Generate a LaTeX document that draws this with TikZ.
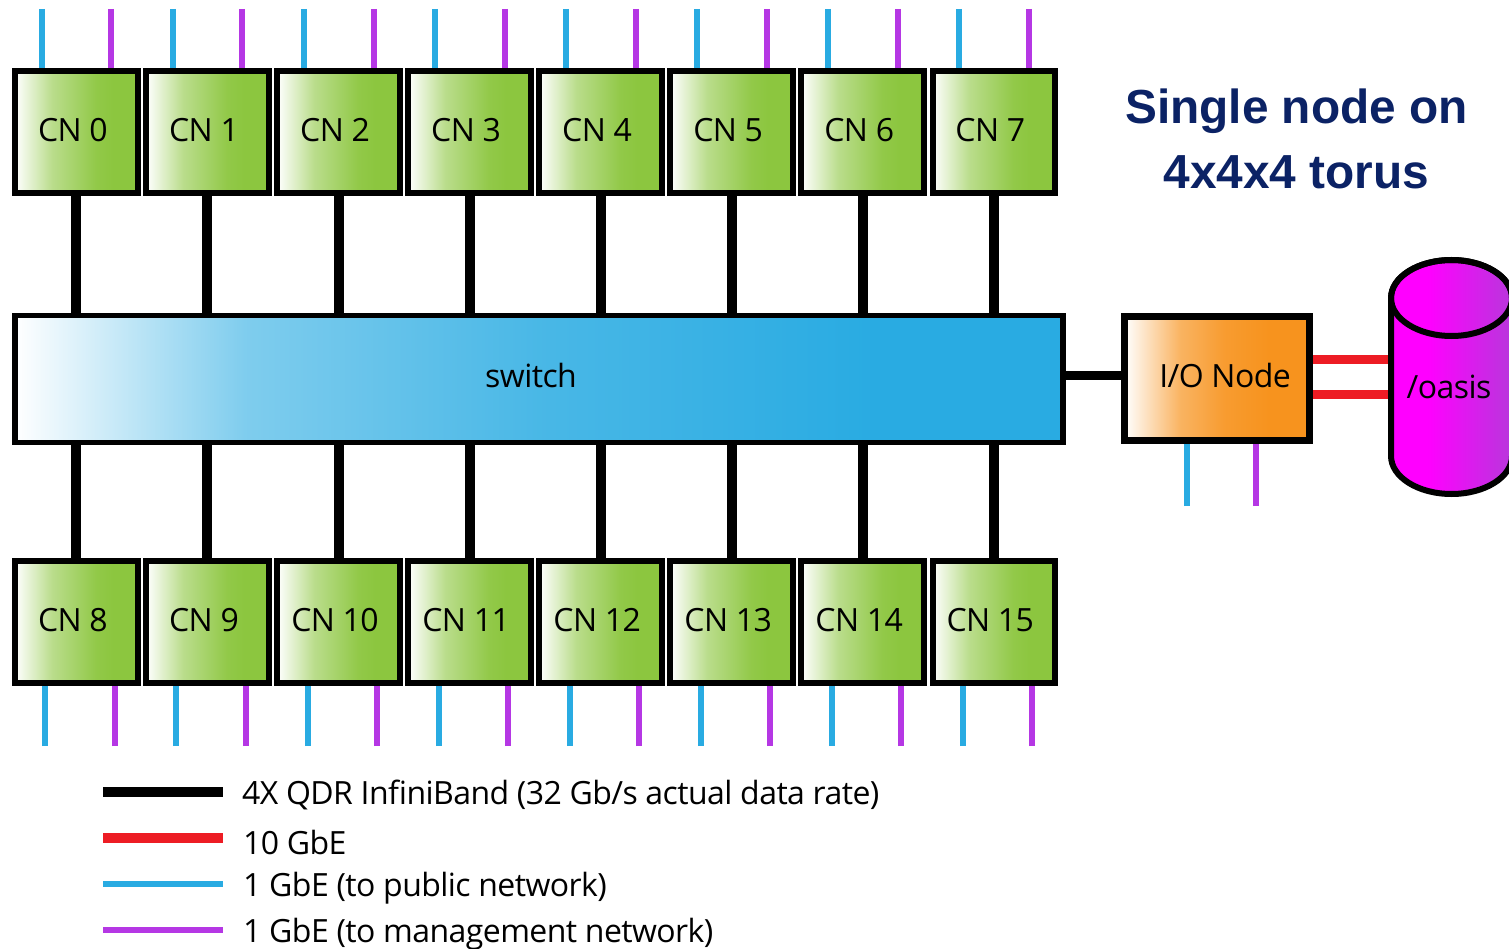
\documentclass[tikz,border=0pt]{standalone}
\usepackage{fontspec}
\setmainfont[LetterSpace=-1.8]{Open Sans}
\newfontfamily\titlefont[Scale=1.0]{Liberation Sans}
\usetikzlibrary{calc,backgrounds}
\definecolor{cngreen}{HTML}{8CC63F}
\definecolor{swblue}{HTML}{29ABE2}
\definecolor{ioorange}{HTML}{F7931E}
\definecolor{pubblue}{HTML}{29ABE2}
\definecolor{mgmt}{HTML}{B537E4}
\definecolor{tenred}{HTML}{ED1C24}
\definecolor{navy}{HTML}{0B2265}
\definecolor{diskend}{HTML}{B837DC}
\pgfdeclarehorizontalshading{greenfade}{100bp}{color(0bp)=(white);color(25bp)=(white);color(40bp)=(cngreen!60!white);color(58bp)=(cngreen!95!white);color(65bp)=(cngreen);color(100bp)=(cngreen)}
\pgfdeclarehorizontalshading{bluefade}{100bp}{color(0bp)=(white);color(25bp)=(white);color(36bp)=(swblue!60!white);color(50bp)=(swblue!85!white);color(66bp)=(swblue);color(100bp)=(swblue)}
\pgfdeclarehorizontalshading{orangefade}{100bp}{color(0bp)=(white);color(25bp)=(white);color(40bp)=(ioorange!70!white);color(52bp)=(ioorange!92!white);color(64bp)=(ioorange);color(100bp)=(ioorange)}
\pgfdeclarehorizontalshading{diskfade}{100bp}{color(0bp)=(magenta);color(40bp)=(magenta);color(75bp)=(diskend);color(100bp)=(diskend)}
\tikzset{
  x=1pt,y=-1pt,
  every node/.style={font=\fontsize{32}{36}\selectfont,text=black},
  cnbox/.style={draw=black,line width=6pt,minimum width=122.5pt,minimum height=122.5pt,inner sep=0pt,shading=greenfade},
  swbox/.style={draw=black,line width=5.5pt,minimum width=1048pt,minimum height=127pt,inner sep=0pt,shading=bluefade},
  iobox/.style={draw=black,line width=7pt,minimum width=185pt,minimum height=124pt,inner sep=0pt,shading=orangefade},
  ib/.style={line width=10pt,black},
  ten/.style={line width=9pt,tenred},
  pub/.style={line width=6pt,pubblue},
  man/.style={line width=6pt,mgmt},
  legendtext/.style={anchor=base west,inner sep=0pt},
  titletext/.style={font=\titlefont\bfseries\fontsize{47.8}{50}\selectfont,text=navy,inner sep=0pt,anchor=base}
}
\newcommand{\cntext}[1]{\raisebox{5pt}{#1\hspace{7pt}}}
\begin{document}
\begin{tikzpicture}
\useasboundingbox (0,0) rectangle (1509,949);
\clip (0,0) rectangle (1509,949);
% switch, I/O node
\node[swbox] (sw) at (539,379) {\raisebox{7pt}{switch\hspace{16pt}}};
\node[iobox] (io) at (1217,378.5) {\raisebox{6pt}{\hspace{16pt}I/O Node}};
% compute nodes
\foreach \i in {0,...,7}{
  \pgfmathsetmacro{\cx}{76.4+131.05*\i}
  \node[cnbox] (cn\i) at (\cx,132) {\cntext{CN \i}};
  \coordinate (ta\i) at (\cx-34.5,9);
  \coordinate (tb\i) at (\cx+35,9);
  \draw[ib] (cn\i.south) -- (cn\i.south |- sw.north);
  \draw[pub] (ta\i) -- (ta\i |- cn\i.north);
  \draw[man] (tb\i) -- (tb\i |- cn\i.north);
}
\foreach \i in {8,...,15}{
  \pgfmathsetmacro{\cx}{76.4+131.05*(\i-8)}
  \node[cnbox] (cn\i) at (\cx,622) {\cntext{CN \i}};
  \coordinate (ba\i) at (\cx-31,746);
  \coordinate (bb\i) at (\cx+38.5,746);
  \draw[ib] (cn\i.north) -- (cn\i.north |- sw.south);
  \draw[pub] (ba\i) -- (ba\i |- cn\i.south);
  \draw[man] (bb\i) -- (bb\i |- cn\i.south);
}
% disk
\draw[line width=6pt,draw=black,shading=diskfade] (1391,298) -- (1391,456) arc[start angle=180,end angle=0,x radius=60.5,y radius=38] -- (1512,298) arc[start angle=0,end angle=-180,x radius=60.5,y radius=38] -- cycle;
\draw[line width=6pt,black] (1451.5,298) ellipse[x radius=60.5,y radius=38];
\node[inner sep=0pt] (oasis) at (1449,387) {/oasis};
% links
\coordinate (ioL) at ($(io.west)+(0,-3.5)$);
\draw[line width=9pt,black] (sw.east |- ioL) -- (ioL);
\coordinate (diskA) at (1388,359);
\coordinate (diskB) at (1388,394);
\draw[ten] (io.east |- diskA) -- (diskA);
\draw[ten] (io.east |- diskB) -- (diskB);
\coordinate (ioa) at (1187,506);
\coordinate (iob) at (1256,506);
\draw[pub] (ioa) -- (ioa |- io.south);
\draw[man] (iob) -- (iob |- io.south);
% title
\node[titletext] (t1) at (1296.5,123.5) {Single node on};
\node[titletext] (t2) at (1296.5,188.5) {4x4x4 torus};
% legend
\coordinate (l1a) at (103,791.5); \coordinate (l1b) at (223,791.5);
\coordinate (l2a) at (103,837.5); \coordinate (l2b) at (223,837.5);
\coordinate (l3a) at (103,884); \coordinate (l3b) at (223,884);
\coordinate (l4a) at (103,930); \coordinate (l4b) at (223,930);
\draw[line width=10pt,black] (l1a) -- (l1b);
\draw[line width=10pt,tenred] (l2a) -- (l2b);
\draw[pub] (l3a) -- (l3b);
\draw[man] (l4a) -- (l4b);
\node[legendtext] (e1) at (242,804) {4X QDR InfiniBand (32 Gb/s actual data rate)};
\node[legendtext] (e2) at (243,854) {10 GbE};
\node[legendtext] (e3) at (243,896) {1 GbE (to public network)};
\node[legendtext] (e4) at (243,942) {1 GbE (to management network)};
\end{tikzpicture}
\end{document}
